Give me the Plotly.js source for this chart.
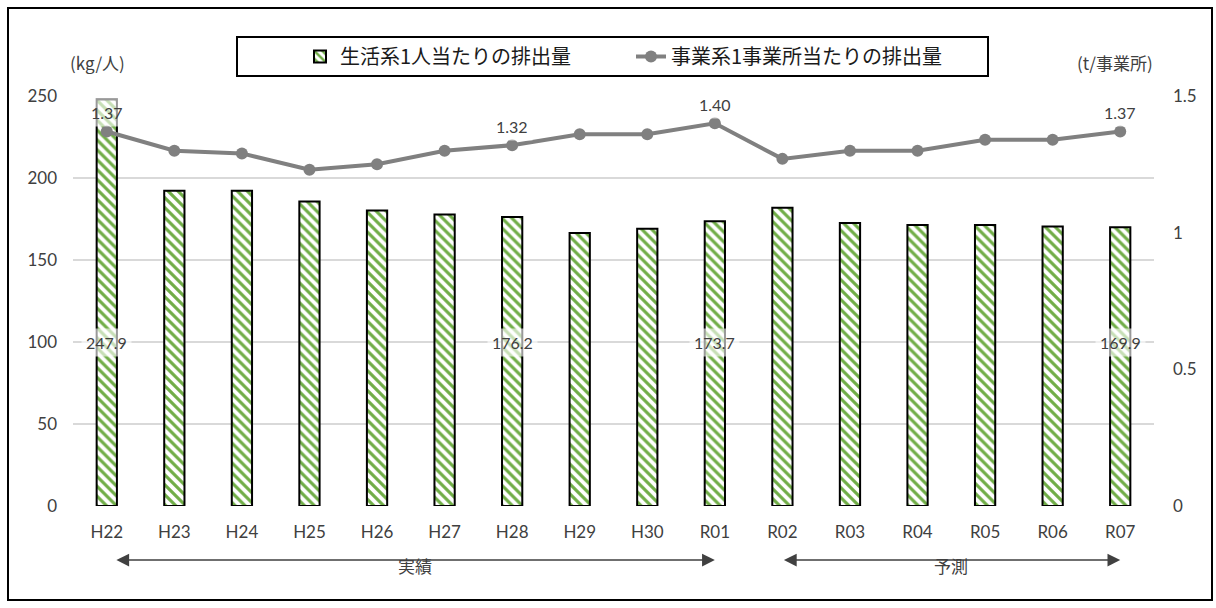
<!DOCTYPE html>
<html><head><meta charset="utf-8">
<script src="https://cdn.plot.ly/plotly-3.0.1.min.js"></script>
<style>html,body{margin:0;padding:0;background:#fff}#chart{width:1216px;height:608px}</style>
</head><body><div id="chart"></div>
<script>
const categories = ['H22','H23','H24','H25','H26','H27','H28','H29','H30','R01','R02','R03','R04','R05','R06','R07'];
const householdPerCapita = [247.9,192.2,192.2,185.7,180.2,177.8,176.2,166.4,169.0,173.7,181.8,172.5,171.3,171.3,170.4,169.9];
const businessPerSite = [1.37,1.30,1.29,1.23,1.25,1.30,1.32,1.36,1.36,1.40,1.27,1.30,1.30,1.34,1.34,1.37];
const seriesNames = ['生活系1人当たりの排出量','事業系1事業所当たりの排出量'];
const labelledIdx = [0,6,9,15];
const barLabelLevel = 100;
const leftTicks = [0,50,100,150,200,250];
const rightTicks = [0,0.5,1,1.5];
const leftUnit = '(kg/人)';
const rightUnit = '(t/事業所)';
const periods = [{text:'実績', from:0.12, to:9}, {text:'予測', from:10, to:15}];

const W = 1216, H = 608;
const M = {l:73, r:62, t:96, b:102, autoexpand:false};
const pw = W - M.l - M.r, ph = H - M.t - M.b;
const px2x = p => (p - M.l) / pw;
const px2y = p => (H - M.b - p) / ph;

const tickFont = {family:'Lato, "Noto Sans", sans-serif', size:17, color:'#404040'};
const jpFont = {family:'"Noto Sans CJK JP", sans-serif', size:17, color:'#404040'};
const labelBg = 'rgba(255,255,255,0.6)';

const traces = [
  {type:'bar', x:categories, y:householdPerCapita, name:seriesNames[0], width:0.3,
   marker:{color:'#ffffff', line:{color:'#000000', width:2},
           pattern:{shape:'\\', fgcolor:'#70AD47', bgcolor:'#ffffff', size:7, solidity:0.45, fillmode:'replace'}},
   hoverinfo:'x+y'},
  {type:'scatter', mode:'lines+markers', x:categories, y:businessPerSite, name:seriesNames[1], yaxis:'y2',
   line:{color:'#808080', width:4}, marker:{color:'#808080', size:12}}
];

const annotations = [];
labelledIdx.forEach(i => {
  annotations.push({x:categories[i], y:barLabelLevel, xref:'x', yref:'y', text:householdPerCapita[i].toFixed(1),
    showarrow:false, font:{family:tickFont.family, size:16, color:'#404040'}, bgcolor:labelBg, borderpad:4});
  annotations.push({x:categories[i], y:businessPerSite[i], xref:'x', yref:'y2', yshift:19, text:businessPerSite[i].toFixed(2),
    showarrow:false, font:{family:tickFont.family, size:16, color:'#404040'}, bgcolor:labelBg, borderpad:4});
});
annotations.push({xref:'paper', yref:'paper', x:px2x(68), y:px2y(48), text:leftUnit, showarrow:false, font:jpFont});
annotations.push({xref:'paper', yref:'paper', x:px2x(1155), y:px2y(48), text:rightUnit, showarrow:false, font:jpFont});
periods.forEach(p => {
  annotations.push({x:p.to, y:px2y(560), xref:'x', yref:'paper', ax:p.from, axref:'x', ay:0, ayref:'pixel',
    text:'', showarrow:true, arrowside:'end+start', arrowhead:2, startarrowhead:2, arrowsize:1.7, startarrowsize:1.7,
    arrowwidth:1.5, arrowcolor:'#404040', standoff:0, startstandoff:0});
  annotations.push({x:(p.from + p.to)/2, y:px2y(580), xref:'x', yref:'paper', text:p.text, showarrow:false, font:jpFont});
});

const layout = {
  width:W, height:H, margin:M, paper_bgcolor:'#ffffff', plot_bgcolor:'#ffffff',
  showlegend:true,
  legend:{orientation:'h', x:px2x(300), xanchor:'left', y:px2y(56.5), yanchor:'middle',
          font:{family:'"Noto Sans CJK JP", sans-serif', size:20, color:'#1a1a1a'},
          bgcolor:'rgba(0,0,0,0)', borderwidth:0, entrywidth:286, entrywidthmode:'pixels'},
  xaxis:{type:'category', range:[-0.5, categories.length - 0.5], autorange:false, tickfont:tickFont, showgrid:false, showline:false,
         ticks:'', ticklabelstandoff:14, automargin:false, fixedrange:true},
  yaxis:{range:[0,250], autorange:false, tickvals:leftTicks, tickfont:tickFont, showgrid:true, gridcolor:'#d9d9d9', gridwidth:1.3,
         zeroline:false, showline:false, ticks:'', ticklabelstandoff:15, automargin:false},
  yaxis2:{range:[0,1.5], autorange:false, tickvals:rightTicks, ticktext:rightTicks.map(String), overlaying:'y', side:'right', tickfont:tickFont,
          showgrid:false, zeroline:false, showline:false, ticks:'', ticklabelstandoff:18, automargin:false},
  annotations:annotations,
  shapes:[
    {type:'rect', xref:'paper', yref:'paper', x0:px2x(237), x1:px2x(988), y0:px2y(76), y1:px2y(37), line:{color:'#000', width:2}, fillcolor:'rgba(0,0,0,0)'},
    {type:'rect', xref:'paper', yref:'paper', x0:px2x(8), x1:px2x(1212), y0:px2y(600), y1:px2y(8), line:{color:'#000', width:2}, fillcolor:'rgba(0,0,0,0)'}
  ]
};
Plotly.newPlot('chart', traces, layout, {displayModeBar:false, staticPlot:true});
</script></body></html>
